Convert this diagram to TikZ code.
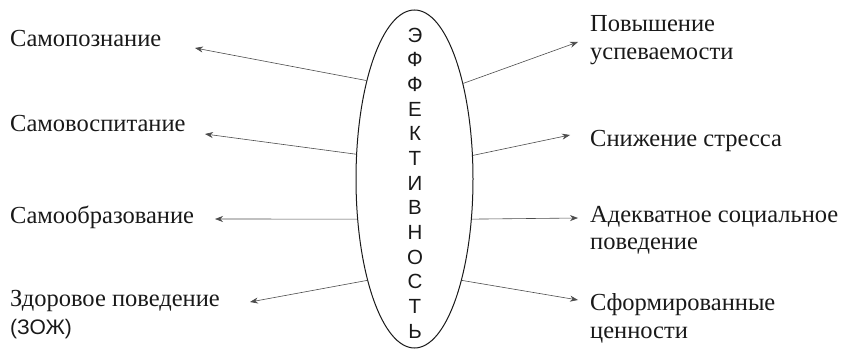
\documentclass[tikz,border=0pt]{standalone}
\usepackage{fontspec}
\setmainfont{Liberation Serif}
\newfontfamily\sansf{Liberation Sans}
\usetikzlibrary{shapes.geometric,arrows.meta}
\begin{document}
\begin{tikzpicture}[x=1pt,y=-1pt,
  lbl/.style={inner sep=0pt,font=\fontsize{24.5}{28}\selectfont,text=black!90,align=left,anchor=base west},
  arr/.style={draw=black!70,line width=0.6pt,-{Stealth[length=8pt,width=6pt]}},
  oval/.style={ellipse,draw=black!90,line width=1pt,inner sep=0pt,minimum width=117pt,minimum height=338pt}]
\useasboundingbox (0,0) rectangle (847,350);
\node[oval] (e) at (414.5,179) {};
\node[inner sep=0pt,align=center,font=\sansf\fontsize{20.5}{24.67}\selectfont,text=black!90] (w) at (415,183)
  {Э\\Ф\\Ф\\Е\\К\\Т\\И\\В\\Н\\О\\С\\Т\\Ь};
% left labels
\node[lbl] (l1) at (10,47) {Самопознание};
\node[lbl] (l2) at (10,132) {Самовоспитание};
\node[lbl] (l3) at (10,224) {Самообразование};
\node[lbl] (l4) at (10,334) {Здоровое поведение\\{\sansf\fontsize{21}{28}\selectfont(ЗОЖ)}};
% right labels
\node[lbl] (r1) at (590,60) {Повышение\\успеваемости};
\node[lbl] (r2) at (590,147) {Снижение стресса};
\node[lbl] (r3) at (590,250) {Адекватное социальное\\поведение};
\node[lbl] (r4) at (590,338) {Сформированные\\ценности};
% arrow tips
\coordinate (a1) at (195,48);
\coordinate (a2) at (205,134);
\coordinate (a3) at (215,219);
\coordinate (a4) at (250,302);
\coordinate (b1) at (578,42);
\coordinate (b2) at (570,135);
\coordinate (b3) at (578,218);
\coordinate (b4) at (578,300);
\draw[arr] (e.116.3) -- (a1);
\draw[arr] (e.157.5) -- (a2);
\draw[arr] (e.215.8) -- (a3);
\draw[arr] (e.245) -- (a4);
\draw[arr] (e.63.7) -- (b1);
\draw[arr] (e.22.5) -- (b2);
\draw[arr] (e.-35.8) -- (b3);
\draw[arr] (e.-65) -- (b4);
\end{tikzpicture}
\end{document}
